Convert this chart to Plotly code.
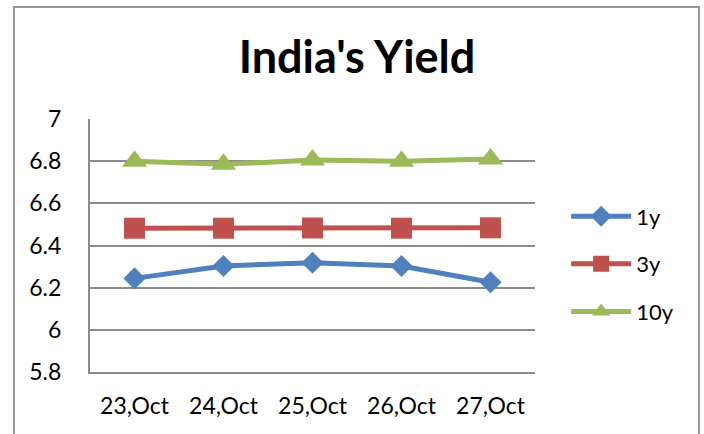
import plotly.graph_objects as go

dates = ["23,Oct", "24,Oct", "25,Oct", "26,Oct", "27,Oct"]
y1 = [6.244, 6.303, 6.318, 6.303, 6.226]
y3 = [6.482, 6.482, 6.483, 6.482, 6.484]
y10 = [6.80, 6.785, 6.805, 6.80, 6.81]
y_ticks = [5.8, 6, 6.2, 6.4, 6.6, 6.8, 7]
y_tick_text = ["5.8", "6", "6.2", "6.4", "6.6", "6.8", "7"]

FONT = "Lato"

fig = go.Figure()
fig.add_trace(go.Scatter(x=dates, y=y1, name="1y", mode="lines+markers", legendgroup="a",
                         line=dict(color="#4F81BD", width=5),
                         marker=dict(symbol="diamond", size=17, color="#4F81BD")))
fig.add_trace(go.Scatter(x=dates, y=y3, name="3y", mode="lines+markers", legendgroup="b",
                         line=dict(color="#C0504D", width=5),
                         marker=dict(symbol="square", size=21, color="#C0504D")))
fig.add_trace(go.Scatter(x=dates, y=y10, name="10y", mode="lines+markers", legendgroup="c",
                         line=dict(color="#9BBB59", width=5),
                         marker=dict(symbol="triangle-up", size=22, color="#9BBB59")))

fig.update_layout(
    width=704, height=434,
    margin=dict(l=90, r=704 - 90 - 445, t=119, b=434 - 119 - 253),
    paper_bgcolor="white", plot_bgcolor="white",
    font=dict(family=FONT, size=23, color="black"),
    title=dict(text="<b>India's Yield</b>", x=357 / 704, xanchor="center",
               y=1 - 57 / 434, yanchor="middle",
               font=dict(family=FONT, size=45, color="black")),
    showlegend=True,
    legend=dict(x=1.07, xanchor="left", y=0.427, yanchor="middle",
                traceorder="grouped", tracegroupgap=16, itemwidth=60,
                font=dict(family=FONT, size=22), bgcolor="rgba(0,0,0,0)"),
    xaxis=dict(type="category", range=[-0.5, 4.5], showgrid=False,
               showline=True, linecolor="#8c8c8c", linewidth=2,
               ticks="outside", ticklen=12, tickcolor="rgba(0,0,0,0)",
               tickfont=dict(size=23)),
    yaxis=dict(range=[5.8, 7], tickvals=y_ticks, ticktext=y_tick_text,
               showgrid=True, gridcolor="#8c8c8c", gridwidth=2,
               showline=True, linecolor="#8c8c8c", linewidth=2,
               ticks="outside", ticklen=22, tickcolor="rgba(0,0,0,0)",
               tickfont=dict(size=23), zeroline=False),
    shapes=[dict(type="rect", xref="paper", yref="paper",
                 x0=(14 - 90) / 445, x1=(699 - 90) / 445,
                 y0=(372 - 460) / 253, y1=(372 - 7) / 253,
                 line=dict(color="#999999", width=2), layer="below")],
)

fig.write_html("out.html", config={"displayModeBar": False},
               post_script="document.body.style.margin='0';document.body.style.overflow='hidden';")
